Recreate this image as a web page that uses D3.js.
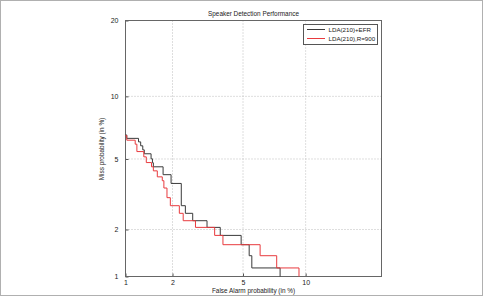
<!DOCTYPE html>
<html lang="en">
<head>
<meta charset="utf-8">
<title>Speaker Detection Performance</title>
<script src="https://cdn.jsdelivr.net/npm/d3@7"></script>
<style>
  body { margin: 0; background: #fff; }
  svg text { font-family: "Liberation Sans", Arial, sans-serif; fill: #222; }
</style>
</head>
<body>
<script>
var W = 483, H = 296;

// DET curves, [false alarm %, miss %] at each step corner
var efrPoints = [
  [0.95, 6.61], [1.02, 6.36], [1.22, 6.11], [1.26, 5.84], [1.30, 5.57],
  [1.33, 5.32], [1.47, 5.01], [1.50, 4.78], [1.52, 4.55], [1.75, 4.13],
  [1.96, 3.70], [2.26, 2.77], [2.39, 2.50], [2.64, 2.26], [3.19, 2.06],
  [3.78, 1.84], [4.89, 1.61], [5.38, 1.37], [5.55, 1.14], [7.64, 0.92]
];
var r900Points = [
  [0.95, 6.56], [1.02, 6.23], [1.16, 5.95], [1.19, 5.46], [1.32, 5.13],
  [1.37, 4.79], [1.48, 4.55], [1.52, 4.33], [1.61, 4.02], [1.73, 3.83],
  [1.77, 3.49], [1.85, 3.08], [1.94, 2.77], [2.20, 2.50], [2.32, 2.26],
  [2.74, 2.06], [3.52, 1.84], [3.91, 1.61], [6.11, 1.37], [7.36, 1.14],
  [9.34, 0.92]
];
var seriesNames = ["LDA(210)+EFR", "LDA(210),R=900"];
var seriesColors = ["#3a3a3a", "#e83a3e"];

var xTicks = [1, 2, 5, 10];
var yTicks = [1, 2, 5, 10, 20];
var gridTicks = [2, 5, 10];
var axisRange = [1, 20];

// inverse normal cdf (Acklam)
function probit(p) {
  var a = [-3.969683028665376e+01, 2.209460984245205e+02, -2.759285104469687e+02, 1.383577518672690e+02, -3.066479806614716e+01, 2.506628277459239e+00];
  var b = [-5.447609879822406e+01, 1.615858368580409e+02, -1.556989798598866e+02, 6.680131188771972e+01, -1.328068155288572e+01];
  var c = [-7.784894002430293e-03, -3.223964580411365e-01, -2.400758277161838e+00, -2.549732539343734e+00, 4.374664141464968e+00, 2.938163982698783e+00];
  var d = [7.784695709041462e-03, 3.224671290700398e-01, 2.445134137142996e+00, 3.754408661907416e+00];
  var plow = 0.02425, q, r;
  if (p < plow) {
    q = Math.sqrt(-2 * Math.log(p));
    return (((((c[0]*q+c[1])*q+c[2])*q+c[3])*q+c[4])*q+c[5]) / ((((d[0]*q+d[1])*q+d[2])*q+d[3])*q+1);
  }
  if (p <= 1 - plow) {
    q = p - 0.5; r = q*q;
    return (((((a[0]*r+a[1])*r+a[2])*r+a[3])*r+a[4])*r+a[5])*q / (((((b[0]*r+b[1])*r+b[2])*r+b[3])*r+b[4])*r+1);
  }
  q = Math.sqrt(-2 * Math.log(1 - p));
  return -(((((c[0]*q+c[1])*q+c[2])*q+c[3])*q+c[4])*q+c[5]) / ((((d[0]*q+d[1])*q+d[2])*q+d[3])*q+1);
}
function pr(v) { return probit(v / 100); }

var plotLeft = 125.5, plotTop = 20.5, size = 256;

var x = d3.scaleLinear().domain(axisRange.map(pr)).range([plotLeft, plotLeft + size]);
var y = d3.scaleLinear().domain(axisRange.map(pr)).range([plotTop + size, plotTop]);

var svg = d3.select("body").append("svg")
    .attr("width", W)
    .attr("height", H);

svg.append("rect")
    .attr("x", 0.5).attr("y", 0.5)
    .attr("width", W - 1).attr("height", H - 1)
    .attr("fill", "#fff")
    .attr("stroke", "#b0b0b0");

svg.append("clipPath").attr("id", "plotclip")
  .append("rect")
    .attr("x", plotLeft).attr("y", plotTop)
    .attr("width", size).attr("height", size);

// grid
var grid = svg.append("g").attr("stroke", "#bdbdbd").attr("stroke-dasharray", "1,2");
grid.selectAll("line.gx").data(gridTicks).enter().append("line")
    .attr("x1", function(d){ return x(pr(d)); })
    .attr("x2", function(d){ return x(pr(d)); })
    .attr("y1", plotTop).attr("y2", plotTop + size);
grid.selectAll("line.gy").data(gridTicks).enter().append("line")
    .attr("y1", function(d){ return y(pr(d)); })
    .attr("y2", function(d){ return y(pr(d)); })
    .attr("x1", plotLeft).attr("x2", plotLeft + size);

// axes: ticks sit at probit positions, labels show the percent
function xLabel(v, i) { return String(xTicks[i]); }
function yLabel(v, i) { return String(yTicks[i]); }

var xAxis = svg.append("g")
    .attr("transform", "translate(0," + (plotTop + size) + ")")
    .call(d3.axisBottom(x).tickValues(xTicks.map(pr)).tickFormat(xLabel)
          .tickSizeInner(-3).tickSizeOuter(0).tickPadding(4));
var yAxis = svg.append("g")
    .attr("transform", "translate(" + plotLeft + ",0)")
    .call(d3.axisLeft(y).tickValues(yTicks.map(pr)).tickFormat(yLabel)
          .tickSizeInner(-3).tickSizeOuter(0).tickPadding(7));
[xAxis, yAxis].forEach(function(g){
  g.select(".domain").remove();
  g.selectAll(".tick line").attr("stroke", "#555");
  g.selectAll(".tick text").attr("font-size", 7).attr("fill", "#222")
    .attr("font-family", "Liberation Sans, Arial, sans-serif");
});

// plot box
svg.append("rect")
    .attr("x", plotLeft).attr("y", plotTop)
    .attr("width", size).attr("height", size)
    .attr("fill", "none")
    .attr("stroke", "#666");

// curves
var line = d3.line()
    .x(function(d){ return x(pr(d[0])); })
    .y(function(d){ return y(pr(d[1])); })
    .curve(d3.curveStepAfter);

svg.append("g").attr("clip-path", "url(#plotclip)")
  .selectAll("path")
  .data([efrPoints, r900Points])
  .enter().append("path")
    .attr("d", line)
    .attr("fill", "none")
    .attr("stroke", function(d, i){ return seriesColors[i]; })
    .attr("stroke-width", 1);

// titles
svg.append("text")
    .attr("x", plotLeft + size / 2).attr("y", 15.5)
    .attr("text-anchor", "middle")
    .attr("font-size", 6.4)
    .text("Speaker Detection Performance");
svg.append("text")
    .attr("x", plotLeft + size / 2).attr("y", 292.5)
    .attr("text-anchor", "middle")
    .attr("font-size", 6.4)
    .text("False Alarm probability (in %)");
svg.append("text")
    .attr("transform", "translate(103.5,149) rotate(-90)")
    .attr("text-anchor", "middle")
    .attr("font-size", 6.4)
    .text("Miss probability (in %)");

// legend
var lg = svg.append("g");
lg.append("rect")
    .attr("x", 303.5).attr("y", 24.5)
    .attr("width", 74).attr("height", 20)
    .attr("fill", "#fff")
    .attr("stroke", "#555");
var items = lg.selectAll("g.item").data(seriesNames).enter().append("g")
    .attr("transform", function(d, i){ return "translate(0," + (29.5 + i * 9) + ")"; });
items.append("line")
    .attr("x1", 307).attr("x2", 325)
    .attr("stroke", function(d, i){ return seriesColors[i]; });
items.append("text")
    .attr("x", 328.5).attr("y", 2.2)
    .attr("font-size", 6.2)
    .text(function(d){ return d; });
</script>
</body>
</html>
